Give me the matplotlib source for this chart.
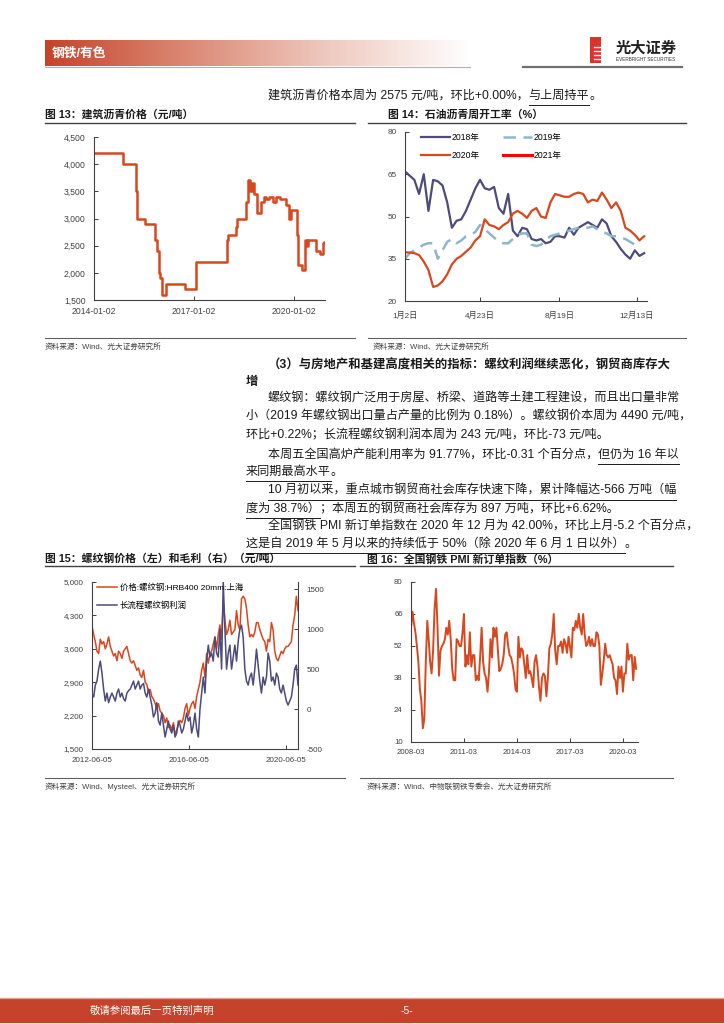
import matplotlib
matplotlib.use('Agg')
import matplotlib.pyplot as plt
import numpy as np
import pandas as pd
from matplotlib.lines import Line2D
from matplotlib.patches import Rectangle
from matplotlib.colors import LinearSegmentedColormap
from matplotlib.ticker import FuncFormatter

# ---------------- DATA ----------------
# Fig 13: asphalt price step changes
asphalt_dates = ['2014-01-02', '2014-11-14', '2015-04-10', '2015-04-17', '2015-07-20', '2015-10-30',
                 '2015-11-25', '2015-12-13', '2016-01-01', '2016-01-22', '2016-03-07', '2016-10-01',
                 '2017-01-30', '2018-01-01', '2018-01-12', '2018-04-05', '2018-04-20', '2018-08-01',
                 '2018-08-15', '2018-09-06', '2018-09-27', '2018-10-20', '2018-11-25', '2019-01-10',
                 '2019-02-08', '2019-03-10', '2019-04-08', '2019-05-22', '2019-06-20', '2019-08-03',
                 '2019-10-15', '2019-11-13', '2019-12-09', '2020-02-03', '2020-02-21', '2020-03-29',
                 '2020-05-05', '2020-05-23', '2020-06-10', '2020-09-02', '2020-10-16', '2020-11-14',
                 '2020-11-27', '2020-12-11']
asphalt_price = [4200, 4000, 3500, 3000, 2900, 2600,
                 2400, 2000, 1900, 1600, 1800, 1700,
                 2200, 2600, 2700, 2850, 3000, 3300,
                 3700, 3500, 3650, 3450, 3100, 3300,
                 3400, 3350, 3400, 3300, 3400, 3350,
                 3250, 3000, 3150, 2700, 2150, 2050,
                 2600, 2500, 2600, 2400, 2350, 2550,
                 2575, 2575]
asphalt_xticks = ['2014-01-02', '2017-01-02', '2020-01-02']

# Fig 14: weekly operating rate of petroleum asphalt (%)
op_2018 = [66, 64.5, 63, 58, 65, 52, 63, 62.5, 61, 55, 46, 48.5, 49, 52, 56, 60, 63, 60, 59.5, 60.5,
           53, 51, 58, 45, 43, 46, 45.5, 42, 41.5, 42, 40.5, 41, 43, 43, 42.5, 46, 43.5, 46, 47, 48,
           47, 46, 49, 47.5, 43, 41, 38.5, 36.5, 35, 38, 36, 37]
op_2019 = [35, 37, 38, 39, 40, 40.5, 40.5, 35, 38, 41, 42, 40.5, 41.5, 43, 43.5, 44.5, 47, 45.5, 44, 42.5,
           41, 40.5, 40.5, 42, 43.5, 44, 44, 40, 39.5, 40, 41.5, 43, 43.5, 44, 44.5, 45, 45.5, 46, 46, 46,
           46.5, 45.5, 44.5, 44, 43, 43, 42.5, 42, 41, 40, 39.5]
op_2020 = [37.3, 37.2, 37, 36.3, 34, 31, 25, 25.5, 27, 29.5, 33, 35, 36, 37.5, 39, 41.5, 43, 49, 47, 46.5,
           45.5, 47, 48, 51, 52, 51, 49.5, 52, 53, 50, 49.5, 55, 58, 57.5, 57, 57, 58, 58.5, 58, 55,
           56, 55.5, 58.5, 56, 53, 55, 52, 46, 45, 43.5, 41.5, 43]
op_2021 = [38]
op_tick_dates = ['2020-01-02', '2020-04-23', '2020-08-19', '2020-12-13']
op_tick_labels = ['1月2日', '4月23日', '8月19日', '12月13日']

# Fig 15: rebar price (left) and profit (right)
rebar_start = '2012-06-05'
rebar_price = [4080, 3900, 3750, 3550, 3500, 3800, 3700, 3750, 3600, 3700,
               3850, 3650, 3550, 3450, 3500, 3350, 3550, 3500, 3400, 3550,
               3600, 3650, 3500, 3350, 3300, 3350, 3250, 3150, 3200, 3050,
               3000, 3150, 2900, 2850, 2700, 2750, 2600, 2550, 2450, 2350,
               2450, 2300, 2250, 2200, 2050, 2150, 1950, 2000, 1900, 2050,
               1800, 1900, 2000, 2100, 2050, 2150, 2350, 2450, 2200, 2350,
               2450, 2500, 2350, 2600, 2750, 2900, 3150, 3300, 3000, 3500,
               3300, 3500, 3550, 3700, 3850, 3600, 3900, 4100, 3800, 4600,
               4200, 3900, 4000, 4200, 3900, 3950, 4000, 4400, 4100, 4000,
               4650, 4700, 4650, 4450, 4100, 3850, 3900, 3850, 3950, 4150,
               4150, 4000, 3900, 3800, 3750, 3550, 3800, 3750, 4150, 4000,
               3550, 3400, 3350, 3450, 3550, 3500, 3600, 3650, 3650, 3700,
               3750, 4100, 4300, 4700, 4400]
rebar_profit = [200, 150, 300, 350, 500, 600, 450, 250, 100, 200,
                80, 150, 200, 150, 100, 200, 250, 150, 200, 130,
                100, 200, 230, 250, 300, 350, 250, 300, 350, 250,
                300, 320, 200, 150, 250, 150, 50, -100, -50, 80,
                -150, -200, -50, -200, -350, -250, -150, -250, -300, -200,
                -350, -300, -150, -200, -300, -250, -150, -50, -150, -100,
                -300, -200, -50, -250, -350, 0, 200, 400, 200, 600,
                800, 650, 700, 600, 900, 700, 650, 1000, 500, 1600,
                1000, 500, 700, 800, 500, 650, 800, 600, 850, 1000,
                1050, 900, 500, 350, 300, 400, 450, 300, 500, 750,
                550, 350, 200, 400, 300, 400, 700, 600, 350, 400,
                300, 450, 400, 250, 200, 300, 200, 100, 50, 100,
                150, 300, 500, 550, 300]
rebar_xticks = ['2012-06-05', '2016-06-05', '2020-06-05']

# Fig 16: steel PMI new orders index (monthly from 2008-03)
pmi_start = '2008-03-01'
pmi_new_orders = [60, 67, 62, 58, 52, 45, 33, 28, 16, 20,
                  45, 63, 55, 45, 40, 50, 68, 77, 60, 39, 50, 52,
                  53, 55, 60, 57, 63, 55, 42, 37, 37, 55, 54, 52,
                  52, 58, 66, 43, 48, 44, 58, 43, 48, 48, 37, 39,
                  37, 48, 60, 45, 40, 38, 32, 41, 55, 47, 60, 56,
                  60, 50, 41, 42, 44, 48, 57, 58, 52, 48, 47, 44,
                  40, 33, 32, 56, 47, 51, 50, 44, 38, 48, 40, 41,
                  38, 34, 45, 48, 43, 34, 28, 38, 40, 39, 30, 38,
                  51, 53, 57, 66, 50, 44, 52, 52, 54, 49, 55, 53,
                  49, 56, 52, 47, 60, 59, 63, 60, 66, 60, 57, 66,
                  57, 52, 53, 56, 52, 55, 52, 52, 58, 57, 52, 35,
                  40, 46, 53, 48, 47, 48, 46, 44, 38, 37, 31, 43,
                  38, 43, 32, 40, 40, 53, 46, 48, 48, 37, 47.2, 42]
pmi_xticks = ['2008-03-01', '2011-03-01', '2014-03-01', '2017-03-01', '2020-03-01']

# ---------------- STYLE ----------------
plt.rcParams['font.family'] = ['Liberation Sans', 'Noto Sans CJK SC', 'DejaVu Sans']
plt.rcParams['axes.unicode_minus'] = False
RED = '#D9471E'
PURPLE = '#4E4B7C'
LBLUE = '#8DB6CC'
RED21 = '#FF0000'
TXT = '#1a1a1a'
TICK = '#404040'
BAND = '#C5432A'
BODY = 8.7

W, H = 724, 1024
fig = plt.figure(figsize=(W / 100, H / 100), dpi=100)
renderer = fig.canvas.get_renderer()


def fx(x):
    return x / W


def fy(y):
    return 1 - y / H


def box(l, t, r, b):
    return [l / W, 1 - b / H, (r - l) / W, (b - t) / H]


def hline(x0, x1, y, color=TXT, lw=0.8):
    fig.add_artist(Line2D([fx(x0), fx(x1)], [fy(y), fy(y)], transform=fig.transFigure,
                          color=color, lw=lw))


def seg_text(x, y, segs, size=BODY, weight='normal', ul_off=8.5):
    cur = x
    for s, u in segs:
        t = fig.text(fx(cur), fy(y), s, fontsize=size, va='center', ha='left',
                     fontweight=weight, color=TXT)
        bb = t.get_window_extent(renderer)
        if u:
            hline(cur, bb.x1, y + ul_off, TXT, 0.7)
        cur = bb.x1


def style_axes(ax, size, xpad, ypad=6):
    for sp in ['top', 'right']:
        ax.spines[sp].set_visible(False)
    for sp in ['left', 'bottom']:
        ax.spines[sp].set_color(TICK)
        ax.spines[sp].set_linewidth(0.8)
    ax.tick_params(direction='in', length=3, width=0.7, labelsize=size, colors=TICK)
    ax.tick_params(axis='x', pad=xpad)
    ax.tick_params(axis='y', pad=ypad)


comma = FuncFormatter(lambda v, p: f'{v:,.0f}')

# ---------------- HEADER ----------------
axh = fig.add_axes(box(45, 40, 470, 66))
grad = np.linspace(0, 1, 256).reshape(1, -1)
cmap = LinearSegmentedColormap.from_list('hdr', [(0, '#C5432A'), (0.3, '#D9826D'),
                                                 (0.65, '#EEC7BC'), (1, '#FFFFFF')])
axh.imshow(grad, aspect='auto', cmap=cmap, extent=[0, 1, 0, 1])
axh.axis('off')
fig.text(fx(52), fy(53), '钢铁/有色', color='white', fontsize=9.2, fontweight='bold', va='center')
hline(45, 470, 66.5, '#B0B0B0', 0.8)
# logo
fig.add_artist(Rectangle((fx(590), fy(63)), 11 / W, 26 / H, transform=fig.transFigure,
                         color='#E0302A', lw=0))
for yy in [47, 51, 55, 59]:
    hline(594, 601, yy, 'white', 1.0)
fig.text(fx(616), fy(49), '光大证券', fontsize=11, fontweight='bold', color='#222222', va='center')
fig.text(fx(616), fy(59.5), 'EVERBRIGHT SECURITIES', fontsize=3.3, color='#333333', va='center')
hline(523, 682, 66.5, '#707070', 1.6)

# ---------------- BODY TEXT ----------------
seg_text(268, 96, [('建筑沥青价格本周为 2575 元/吨，环比+0.00%，', False), ('与上周持平', True), ('。', False)])
seg_text(268, 365, [('（3）与房地产和基建高度相关的指标：螺纹利润继续恶化，钢贸商库存大', False)], weight='bold', size=8.9)
seg_text(246, 382, [('增', False)], weight='bold', size=8.9)
seg_text(268, 399, [('螺纹钢：螺纹钢广泛用于房屋、桥梁、道路等土建工程建设，而且出口量非常', False)])
seg_text(246, 417, [('小（2019 年螺纹钢出口量占产量的比例为 0.18%）。螺纹钢价本周为 4490 元/吨，', False)])
seg_text(246, 435, [('环比+0.22%；长流程螺纹钢利润本周为 243 元/吨，环比-73 元/吨。', False)])
seg_text(268, 455, [('本周五全国高炉产能利用率为 91.77%，环比-0.31 个百分点，', False), ('但仍为 16 年以', True)])
seg_text(246, 472, [('来同期最高水平', True), ('。', False)])
seg_text(268, 491, [('10 月初以来，重点城市钢贸商社会库存快速下降，累计降幅达-566 万吨（幅', True)])
seg_text(246, 509, [('度为 38.7%）', True), ('；本周五的钢贸商社会库存为 897 万吨，环比+6.62%。', False)])
seg_text(268, 527, [('全国钢铁 PMI 新订单指数在 2020 年 12 月为 42.00%，环比上月-5.2 个百分点，', False)])
seg_text(246, 544, [('这是自 2019 年 5 月以来的持续低于 50%（除 2020 年 6 月 1 日以外）', True), ('。', False)])

# ---------------- TITLES / SOURCES ----------------
def title(x, y, s):
    fig.text(fx(x), fy(y), s, fontsize=7.8, fontweight='bold', color=TXT, va='center')


def source(x, y, s):
    fig.text(fx(x), fy(y), s, fontsize=5.5, color=TICK, va='center')


title(45, 114, '图 13：建筑沥青价格（元/吨）')
title(388, 114, '图 14：石油沥青周开工率（%）')
hline(45, 355, 123, '#404040', 1.0)
hline(368, 686, 123, '#404040', 1.0)
hline(45, 355, 338, '#606060', 0.8)
hline(368, 686, 338, '#606060', 0.8)
source(45, 347, '资料来源：Wind、光大证券研究所')
source(373, 347, '资料来源：Wind、光大证券研究所')

title(45, 559, '图 15：螺纹钢价格（左）和毛利（右）（元/吨）')
title(367, 559, '图 16：全国钢铁 PMI 新订单指数（%）')
hline(45, 355, 566, '#404040', 1.0)
hline(360, 673, 566, '#404040', 1.0)
hline(45, 345, 778, '#606060', 0.8)
hline(360, 673, 778, '#606060', 0.8)
source(45, 787, '资料来源：Wind、Mysteel、光大证券研究所')
source(367, 787, '资料来源：Wind、中物联钢铁专委会、光大证券研究所')

# ---------------- FIG 13 ----------------
ax1 = fig.add_axes(box(94, 137, 325, 300))
d13 = pd.to_datetime(asphalt_dates)
ax1.step(d13, asphalt_price, where='post', color=RED, lw=1.8)
ax1.set_ylim(1500, 4500)
ax1.set_yticks(np.arange(1500, 4501, 500))
ax1.yaxis.set_major_formatter(comma)
ax1.set_xlim(d13[0], d13[-1])
ax1.set_xticks(pd.to_datetime(asphalt_xticks))
ax1.set_xticklabels(asphalt_xticks)
style_axes(ax1, 6.2, xpad=5)

# ---------------- FIG 14 ----------------
ax2 = fig.add_axes(box(405, 132, 647, 301))
h18, = ax2.plot(np.arange(len(op_2018)), op_2018, color=PURPLE, lw=1.6, label='2018年')
h19, = ax2.plot(np.arange(len(op_2019)), op_2019, color=LBLUE, lw=1.8, ls=(0, (5, 3)), label='2019年')
h20, = ax2.plot(np.arange(len(op_2020)), op_2020, color=RED, lw=1.6, label='2020年')
h21, = ax2.plot(np.arange(len(op_2021)), op_2021, color=RED21, lw=2.2, label='2021年')
ax2.set_ylim(20, 80)
ax2.set_yticks([20, 35, 50, 65, 80])
ax2.set_xlim(0, 51.6)
tk = pd.to_datetime(op_tick_dates)
ax2.set_xticks([(t - tk[0]).days / 7 for t in tk])
ax2.set_xticklabels(op_tick_labels)
style_axes(ax2, 5.9, xpad=8)
ax2.legend(handles=[h18, h20, h19, h21], ncol=2, frameon=False, fontsize=6.2,
           loc='upper left', bbox_to_anchor=(fx(421), fy(133)), bbox_transform=fig.transFigure,
           borderpad=0, borderaxespad=0, handlelength=3.4, handletextpad=0.2,
           columnspacing=2.6, labelspacing=1.0)

# ---------------- FIG 15 ----------------
ax3 = fig.add_axes(box(92, 582, 298, 749))
d15 = pd.date_range(rebar_start, periods=len(rebar_price), freq='25D')
l1, = ax3.plot(d15, rebar_price, color=RED, lw=1.1, label='价格:螺纹钢:HRB400 20mm:上海')
ax3.set_ylim(1500, 5000)
ax3.set_yticks(np.arange(1500, 5001, 700))
ax3.yaxis.set_major_formatter(comma)
ax3.set_xlim(d15[0], d15[-1])
ax3.set_xticks(pd.to_datetime(rebar_xticks))
ax3.set_xticklabels(rebar_xticks)
style_axes(ax3, 5.8, xpad=5.5)
ax3b = ax3.twinx()
l2, = ax3b.plot(d15, rebar_profit, color=PURPLE, lw=1.1, label='长流程螺纹钢利润')
ax3b.set_ylim(-500, 1590)
ax3b.set_yticks([-500, 0, 500, 1000, 1500])
for sp in ['top', 'left', 'bottom']:
    ax3b.spines[sp].set_visible(False)
ax3b.spines['right'].set_color(TICK)
ax3b.spines['right'].set_linewidth(0.8)
ax3b.tick_params(direction='in', length=3, width=0.7, labelsize=5.8, colors=TICK, pad=6)
ax3b.legend(handles=[l1, l2], frameon=False, fontsize=6.0, loc='upper left',
            bbox_to_anchor=(fx(97), fy(583)), bbox_transform=fig.transFigure,
            borderpad=0, borderaxespad=0, handlelength=2.4, handletextpad=0.3, labelspacing=1.2)

# ---------------- FIG 16 ----------------
ax4 = fig.add_axes(box(411, 582, 638, 742))
d16 = pd.date_range(pmi_start, periods=len(pmi_new_orders), freq='MS')
ax4.plot(d16, pmi_new_orders, color=RED, lw=1.4)
ax4.set_ylim(10, 80)
ax4.set_yticks([10, 24, 38, 52, 66, 80])
ax4.set_xlim(d16[0], d16[-1] + pd.Timedelta(days=38))
xt = pd.to_datetime(pmi_xticks)
ax4.set_xticks(xt)
ax4.set_xticklabels([t.strftime('%Y-%m') for t in xt])
style_axes(ax4, 5.6, xpad=5)

# ---------------- FOOTER ----------------
fig.add_artist(Rectangle((0, fy(1023)), 1, 25 / H, transform=fig.transFigure, color=BAND, lw=0))
hline(0, 724, 997.5, '#E3A090', 1.0)
fig.text(fx(90), fy(1011), '敬请参阅最后一页特别声明', color='white', fontsize=7.5, va='center')
fig.text(fx(407), fy(1011), '-5-', color='white', fontsize=7.5, va='center', ha='center')

fig.savefig('out.png', dpi=100)
